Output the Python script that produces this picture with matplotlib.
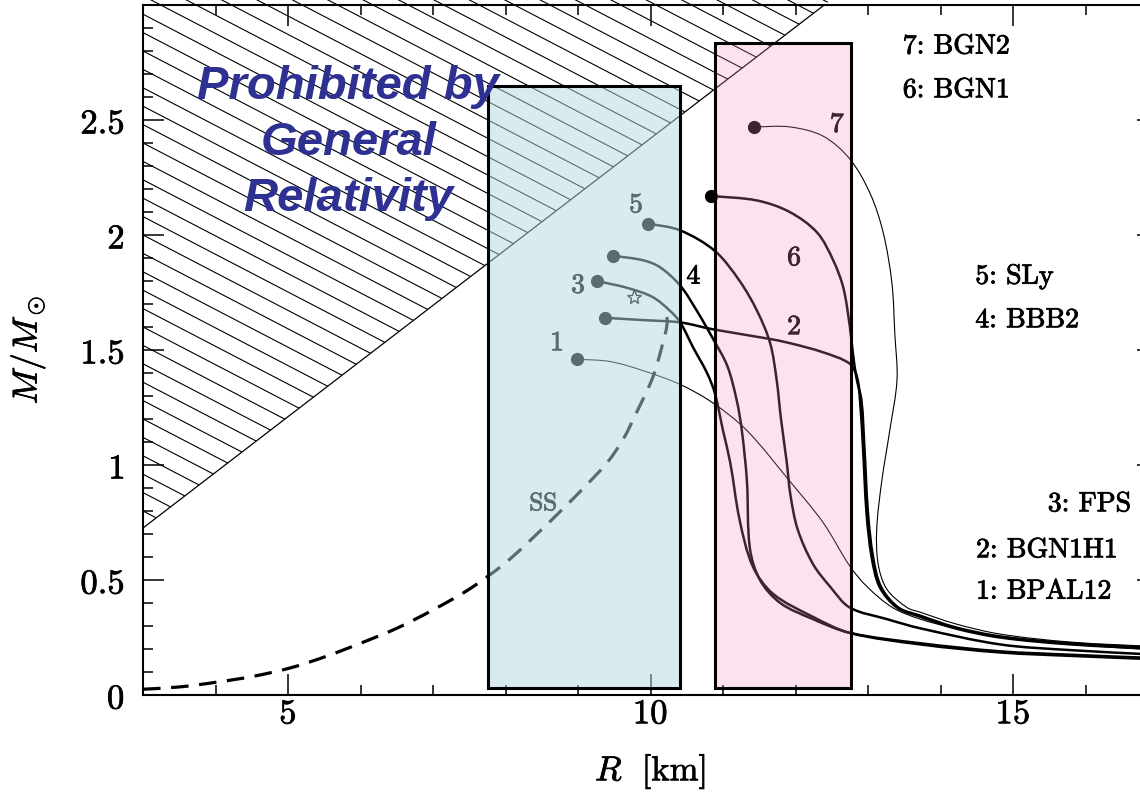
import numpy as np
import matplotlib
matplotlib.use("Agg")
import matplotlib.pyplot as plt
import matplotlib.patheffects as pe
from matplotlib.patches import Rectangle, Polygon, PathPatch
from matplotlib.path import Path
from matplotlib.collections import LineCollection

# ---------------- data ----------------
R1 = [8.99, 9.44, 9.90, 10.41, 10.86, 11.33, 11.92, 12.38, 12.75, 12.99, 13.34, 13.72, 14.2, 14.82, 15.8, 17.0]
M1 = [1.46, 1.45, 1.41, 1.35, 1.27, 1.15, 0.93, 0.75, 0.56, 0.47, 0.38, 0.33, 0.29, 0.25, 0.22, 0.195]

R2 = [9.37, 9.90, 10.41, 10.86, 11.61, 11.92, 12.38, 12.75, 12.85, 12.89, 12.93, 12.98, 13.05, 13.16, 13.4, 13.72, 14.2, 14.82, 15.8, 17.0]
M2 = [1.64, 1.63, 1.62, 1.59, 1.55, 1.53, 1.49, 1.44, 1.38, 1.28, 1.08, 0.79, 0.60, 0.47, 0.38, 0.34, 0.29, 0.25, 0.22, 0.20]

R3 = [9.26, 9.68, 10.03, 10.27, 10.41, 10.59, 10.78, 10.89, 11.0, 11.1, 11.23, 11.41, 11.69, 12.24, 12.75, 13.72, 14.82, 15.8, 17.0]
M3 = [1.80, 1.77, 1.73, 1.67, 1.62, 1.51, 1.40, 1.31, 1.15, 1.01, 0.76, 0.56, 0.44, 0.34, 0.27, 0.22, 0.185, 0.17, 0.155]

R4 = [9.48, 9.90, 10.13, 10.41, 10.64, 10.86, 11.06, 11.19, 11.26, 11.33, 11.37, 11.51, 11.79, 12.24, 12.75, 13.72, 14.82, 15.8, 17.0]
M4 = [1.91, 1.89, 1.86, 1.78, 1.67, 1.55, 1.43, 1.28, 1.15, 0.93, 0.64, 0.50, 0.40, 0.33, 0.27, 0.225, 0.19, 0.175, 0.16]

R5 = [9.97, 10.41, 10.89, 11.23, 11.47, 11.65, 11.74, 11.80, 11.88, 11.93, 12.03, 12.24, 12.48, 12.75, 13.26, 13.72, 14.82, 15.8, 17.0]
M5 = [2.05, 2.02, 1.93, 1.80, 1.67, 1.53, 1.37, 1.20, 1.01, 0.87, 0.72, 0.57, 0.47, 0.38, 0.33, 0.29, 0.22, 0.195, 0.175]

R6 = [10.83, 11.47, 11.92, 12.30, 12.52, 12.66, 12.75, 12.79, 12.84, 12.91, 12.95, 13.0, 13.07, 13.18, 13.42, 13.72, 14.2, 14.82, 15.8, 17.0]
M6 = [2.17, 2.15, 2.10, 2.01, 1.89, 1.77, 1.60, 1.49, 1.38, 1.28, 1.08, 0.79, 0.60, 0.47, 0.38, 0.345, 0.295, 0.255, 0.225, 0.205]

R7 = [11.43, 11.92, 12.38, 12.75, 13.03, 13.21, 13.33, 13.37, 13.40, 13.30, 13.19, 13.12, 13.14, 13.26, 13.54, 13.72, 14.2, 14.82, 15.8, 17.0]
M7 = [2.47, 2.47, 2.43, 2.33, 2.18, 2.01, 1.79, 1.57, 1.37, 1.15, 0.93, 0.72, 0.57, 0.46, 0.38, 0.36, 0.31, 0.265, 0.23, 0.21]

R_ss = [3.0, 3.5, 4.0, 4.5, 5.0, 5.5, 6.0, 6.5, 7.0, 7.5, 8.0, 8.5, 9.0, 9.4, 9.62, 9.81, 10.03, 10.17, 10.23, 10.2]
M_ss = [0.025, 0.035, 0.055, 0.08, 0.115, 0.165, 0.225, 0.29, 0.37, 0.46, 0.575, 0.72, 0.875, 1.01, 1.11, 1.23, 1.38, 1.53, 1.62, 1.69]

curve_R = [R1, R2, R3, R4, R5, R6, R7]
curve_M = [M1, M2, M3, M4, M5, M6, M7]
curve_lw = [0.8, 1.8, 1.8, 1.8, 1.8, 1.8, 0.8]

curve_tags = ["1", "2", "3", "4", "5", "6", "7"]
tag_R = [8.71, 11.98, 9.0, 10.59, 9.80, 11.98, 12.57]
tag_M = [1.53, 1.60, 1.78, 1.82, 2.13, 1.90, 2.48]

eos_names = ["7: BGN2", "6: BGN1", "5: SLy", "4: BBB2", "3: FPS", "2: BGN1H1", "1: BPAL12"]
eos_R = [13.48, 13.48, 14.48, 14.48, 15.48, 14.49, 14.49]
eos_M = [2.82, 2.63, 1.82, 1.63, 0.83, 0.63, 0.45]

star_R, star_M = 9.77, 1.73
gr_slope = 0.242          # M/R slope of the GR (causality) limit

box_blue = (7.76, 10.41, 0.03, 2.65)    # R0, R1, M0, M1
box_pink = (10.89, 12.77, 0.03, 2.835)

xticks = [5, 10, 15]
xtick_labels = ["$5$", "$10$", "$15$"]
yticks = [0, 0.5, 1, 1.5, 2, 2.5]
ytick_labels = ["$0$", "$0.5$", "$1$", "$1.5$", "$2$", "$2.5$"]

# ---------------- helpers ----------------
SX, SY = 72.5, 230.0   # approx. pixel scale, used only to shape smooth curve segments


def smooth_path(R, M):
    """Bezier path passing through the read points (chord-length Hermite)."""
    P = np.column_stack([np.asarray(R) * SX, np.asarray(M) * SY])
    n = len(P)
    d = np.linalg.norm(np.diff(P, axis=0), axis=1)
    T = np.zeros_like(P)
    T[0] = (P[1] - P[0]) / d[0]
    T[-1] = (P[-1] - P[-2]) / d[-1]
    for i in range(1, n - 1):
        T[i] = (P[i + 1] - P[i - 1]) / (d[i - 1] + d[i])
    verts = [P[0]]
    codes = [Path.MOVETO]
    for i in range(n - 1):
        verts += [P[i] + T[i] * d[i] / 3, P[i + 1] - T[i + 1] * d[i] / 3, P[i + 1]]
        codes += [Path.CURVE4] * 3
    V = np.array(verts) / np.array([SX, SY])
    return Path(V, codes)


bold_black = [pe.withStroke(linewidth=0.6, foreground="black")]

# ---------------- figure ----------------
plt.rcParams["mathtext.fontset"] = "cm"
plt.rcParams["font.family"] = ["DejaVu Serif"]

W, H = 1140, 794
fig = plt.figure(figsize=(W / 100, H / 100), dpi=100)
ax = fig.add_axes([143 / W, 1 - 695 / H, 1015 / W, 690 / H])
ax.set_xlim(3, 17)
ax.set_ylim(0, 3)

# GR prohibited region with hatching
tri = Polygon([(3, gr_slope * 3), (3, 4), (4 / gr_slope, 4)], closed=True,
              fill=False, edgecolor="black", lw=0.9, zorder=1.5)
ax.add_patch(tri)
hslope = -0.52 * SX / SY
offs = np.arange(0.0, 6.0, 0.08)
segs = [[(3, c), (17, c + hslope * 14)] for c in offs]
lc = LineCollection(segs, colors="black", linewidths=0.8, zorder=1)
lc.set_clip_path(tri)
ax.add_collection(lc)

# SS dashed curve
ax.add_patch(PathPatch(smooth_path(R_ss, M_ss), fill=False, edgecolor="black",
                       lw=2.3, linestyle=(0, (5.5, 3.3)), zorder=2))

# EOS curves
for R, M, lw in zip(curve_R, curve_M, curve_lw):
    ax.add_patch(PathPatch(smooth_path(R, M), fill=False, edgecolor="black",
                           lw=lw, capstyle="round", joinstyle="round", zorder=2))
    ax.plot(R[0], M[0], "o", color="black", ms=8.5, zorder=3)

for t, x, y in zip(curve_tags, tag_R, tag_M):
    ax.text(x, y, t, family="cmr10", fontsize=20, ha="center", va="center", zorder=3,
            path_effects=bold_black)
ax.text(8.52, 0.83, "SS", family="cmr10", fontsize=18, ha="center", va="center", zorder=3,
        path_effects=bold_black)
ax.plot(star_R, star_M, marker="*", ms=11, mfc="none", mec="black", mew=1.0, zorder=3)

# rectangles (semi-transparent overlays)
for (x0, x1, y0, y1), fc, a in [(box_blue, (0.70, 0.86, 0.88), 0.5),
                                (box_pink, (0.968, 0.56, 0.75), 0.25)]:
    ax.add_patch(Rectangle((x0, y0), x1 - x0, y1 - y0, facecolor=fc, alpha=a,
                           edgecolor="none", zorder=4))
    ax.add_patch(Rectangle((x0, y0), x1 - x0, y1 - y0, facecolor="none",
                           edgecolor="black", lw=2.2, zorder=5))

for name, x, y in zip(eos_names, eos_R, eos_M):
    ax.text(x, y, name, family="cmr10", fontsize=20, ha="left", va="center", zorder=6,
            path_effects=bold_black)

ax.text(5.83, 2.40, "Prohibited by\nGeneral\nRelativity", ha="center", va="center",
        fontsize=34, fontweight="bold", fontstyle="italic", family="Liberation Sans",
        color="#2E3192", linespacing=1.36, zorder=7)

# axes styling
for sp in ax.spines.values():
    sp.set_linewidth(1.5)
ax.set_xticks(xticks)
ax.set_xticklabels(xtick_labels)
ax.set_yticks(yticks)
ax.set_yticklabels(ytick_labels)
ax.set_xticks(np.arange(3, 17.01, 1), minor=True)
ax.set_yticks(np.arange(0, 3.001, 0.1), minor=True)
ax.tick_params(which="both", direction="in", top=True, right=True, width=1.1)
ax.tick_params(which="major", length=15, labelsize=25)
ax.tick_params(axis="y", which="major", pad=13)
ax.tick_params(axis="x", which="major", pad=1)
ax.tick_params(which="minor", length=7.5)
for lab in ax.get_xticklabels() + ax.get_yticklabels():
    lab.set_path_effects([pe.withStroke(linewidth=0.5, foreground="black")])

ax.set_xlabel(r"$R\ \ [\mathrm{km}]$", fontsize=25,
              path_effects=[pe.withStroke(linewidth=0.5, foreground="black")])
ax.set_ylabel(r"$M/M_\odot$", fontsize=25,
              path_effects=[pe.withStroke(linewidth=0.5, foreground="black")])
ax.xaxis.set_label_coords(0.5, -0.083)
ax.yaxis.set_label_coords(-0.095, 0.5)

fig.savefig("out.png", dpi=100)
